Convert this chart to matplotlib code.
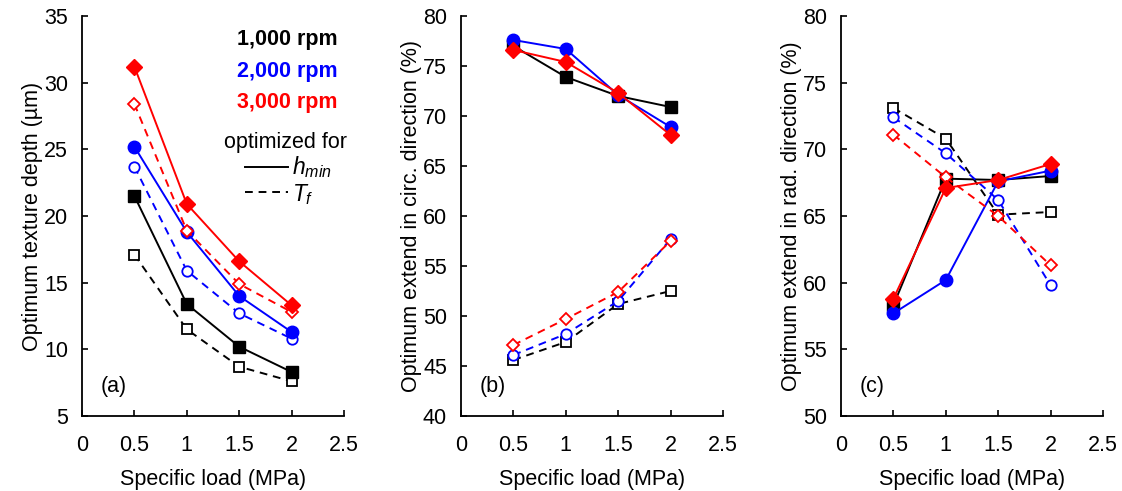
import matplotlib.pyplot as plt
from matplotlib.lines import Line2D

plt.rcParams['font.family'] = ['Liberation Sans', 'DejaVu Sans']
plt.rcParams['mathtext.fontset'] = 'custom'
plt.rcParams['mathtext.it'] = 'Liberation Sans:italic'
plt.rcParams['mathtext.rm'] = 'Liberation Sans'

load = [0.5, 1.0, 1.5, 2.0]

# (a) optimum texture depth (um)
depth_hmin_1000 = [21.5, 13.4, 10.2, 8.3]
depth_hmin_2000 = [25.2, 18.8, 14.0, 11.3]
depth_hmin_3000 = [31.2, 20.9, 16.6, 13.3]
depth_tf_1000 = [17.1, 11.5, 8.7, 7.6]
depth_tf_2000 = [23.7, 15.9, 12.7, 10.8]
depth_tf_3000 = [28.4, 18.9, 14.9, 12.8]

# (b) optimum extend in circ. direction (%)
circ_hmin_1000 = [77.0, 73.9, 72.0, 70.9]
circ_hmin_2000 = [77.6, 76.7, 72.1, 68.9]
circ_hmin_3000 = [76.6, 75.4, 72.3, 68.1]
circ_tf_1000 = [45.6, 47.4, 51.2, 52.5]
circ_tf_2000 = [46.1, 48.2, 51.5, 57.7]
circ_tf_3000 = [47.1, 49.7, 52.4, 57.5]

# (c) optimum extend in rad. direction (%)
rad_hmin_1000 = [58.3, 67.8, 67.7, 68.0]
rad_hmin_2000 = [57.7, 60.2, 67.6, 68.4]
rad_hmin_3000 = [58.8, 67.1, 67.7, 68.9]
rad_tf_1000 = [73.1, 70.8, 65.1, 65.3]
rad_tf_2000 = [72.4, 69.7, 66.2, 59.8]
rad_tf_3000 = [71.1, 67.9, 65.0, 61.3]

colors = {'1000': 'black', '2000': '#0000ff', '3000': '#ff0000'}
markers = {'1000': 's', '2000': 'o', '3000': 'D'}

panels = [
    ('(a)', 'Optimum texture depth (µm)', (5, 35), 5,
     {'1000': (depth_hmin_1000, depth_tf_1000),
      '2000': (depth_hmin_2000, depth_tf_2000),
      '3000': (depth_hmin_3000, depth_tf_3000)}),
    ('(b)', 'Optimum extend in circ. direction (%)', (40, 80), 5,
     {'1000': (circ_hmin_1000, circ_tf_1000),
      '2000': (circ_hmin_2000, circ_tf_2000),
      '3000': (circ_hmin_3000, circ_tf_3000)}),
    ('(c)', 'Optimum extend in rad. direction (%)', (50, 80), 5,
     {'1000': (rad_hmin_1000, rad_tf_1000),
      '2000': (rad_hmin_2000, rad_tf_2000),
      '3000': (rad_hmin_3000, rad_tf_3000)}),
]

FS = 15.5

fig = plt.figure(figsize=(11.22, 4.91), dpi=100)
W, H = 1122, 491
lefts = [82, 461, 841]
top, bottom, width = 16, 416, 262

for (tag, ylabel, ylim, ystep, series), left in zip(panels, lefts):
    ax = fig.add_axes([left / W, 1 - bottom / H, width / W, (bottom - top) / H])
    for key in ['1000', '2000', '3000']:
        hmin, tf = series[key]
        c = colors[key]
        m = markers[key]
        ax.plot(load, tf, '--', color=c, marker=m, ms=7.5 if m != 'D' else 6.5,
                mfc='white', mec=c, mew=1.3, lw=1.4, dashes=(4, 3))
        ax.plot(load, hmin, '-', color=c, marker=m, ms=9 if m != 'D' else 8,
                mfc=c, mec=c, lw=1.4)
    ax.set_xlim(0, 2.5)
    ax.set_ylim(*ylim)
    ax.set_xticks([0, 0.5, 1, 1.5, 2, 2.5])
    ax.set_xticklabels(['0', '0.5', '1', '1.5', '2', '2.5'])
    ax.set_yticks(range(ylim[0], ylim[1] + 1, ystep))
    ax.spines['top'].set_visible(False)
    ax.spines['right'].set_visible(False)
    for s in ['left', 'bottom']:
        ax.spines[s].set_linewidth(1.3)
    ax.tick_params(direction='in', length=4, width=1.2, labelsize=FS)
    ax.tick_params(axis='x', pad=14)
    ax.tick_params(axis='y', pad=10)
    ax.set_xlabel('Specific load (MPa)', fontsize=FS, labelpad=9)
    ax.set_ylabel(ylabel, fontsize=FS, labelpad=1)
    ax.text(0.07, 0.06, tag, transform=ax.transAxes, fontsize=FS)
    ax.patch.set_alpha(0)

# legend of panel (a)
ax = fig.axes[0]
ax.text(2.44, 33.2, '1,000 rpm', color='black', fontsize=FS, fontweight='bold',
        ha='right', va='center')
ax.text(2.44, 30.8, '2,000 rpm', color='#0000ff', fontsize=FS, fontweight='bold',
        ha='right', va='center')
ax.text(2.44, 28.5, '3,000 rpm', color='#ff0000', fontsize=FS, fontweight='bold',
        ha='right', va='center')
ax.text(2.53, 25.5, 'optimized for', color='black', fontsize=FS,
        ha='right', va='center')
ax.add_line(Line2D([1.56, 1.97], [23.7, 23.7], color='black', lw=1.4))
ax.add_line(Line2D([1.56, 1.97], [21.8, 21.8], color='black', lw=1.4,
                   ls='--', dashes=(4, 3)))
ax.text(2.0, 23.7, r'$h_{min}$', fontsize=FS + 1, va='center')
ax.text(2.0, 21.6, r'$T_f$', fontsize=FS + 1, va='center')

fig.savefig('out.png', dpi=100)
